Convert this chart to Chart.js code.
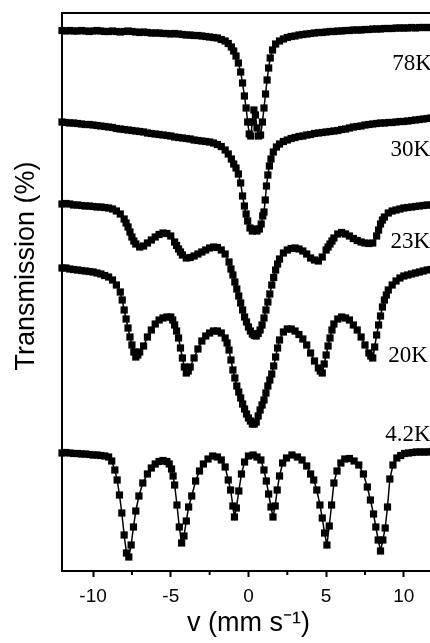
<!DOCTYPE html>
<html>
<head>
<meta charset="utf-8">
<script src="https://cdn.jsdelivr.net/npm/chart.js@4.4.1/dist/chart.umd.min.js"></script>
<style>
  html, body { margin: 0; padding: 0; background: #fff; overflow: hidden; }
  #wrap { width: 440px; height: 643px; }
</style>
</head>
<body>
<div id="wrap"><canvas id="spectra" width="440" height="643"></canvas></div>
<script>
// velocity (mm/s) and transmission (arb. units, offset per spectrum)
const v78 = [-12,-11.75,-11.5,-11.25,-11,-10.75,-10.5,-10.25,-10,-9.75,
  -9.5,-9.25,-9,-8.75,-8.5,-8.25,-8,-7.75,-7.5,-7.25,
  -7,-6.75,-6.5,-6.25,-6,-5.75,-5.5,-5.25,-5,-4.75,
  -4.5,-4.25,-4,-3.75,-3.5,-3.25,-3,-2.75,-2.5,-2.25,
  -2,-1.75,-1.5,-1.3,-1.1,-0.95,-0.8,-0.65,-0.5,-0.38,
  -0.26,-0.15,-0.05,0.05,0.15,0.25,0.35,0.45,0.55,0.65,
  0.78,0.9,1,1.1,1.2,1.3,1.4,1.55,1.75,2,
  2.25,2.5,2.75,3,3.25,3.5,3.75,4,4.25,4.5,
  4.75,5,5.25,5.5,5.75,6,6.25,6.5,6.75,7,
  7.25,7.5,7.75,8,8.25,8.5,8.75,9,9.25,9.5,
  9.75,10,10.25,10.5,10.75,11,11.25,11.5,11.75,12];
const t78 = [540.5,540,540.5,540,540,540.5,540,539.5,540,540.5,
  540,539.5,539.5,540,539.5,539,539.5,540,539.5,539,
  538.5,539,538.5,538,538,538,537.5,537.5,537,537.5,
  537,536.5,536,536,535.5,535.5,535,534.5,534,533.5,
  533,531.5,530,527.5,524,520,515,508,499,488,
  475,463,449,437,435,449,461,456,443,435,
  436,449,463,477,491,503,513,521,527,530,
  532,533.5,534.5,535,536,536.5,537,537.5,538,538.5,
  538.5,539,539.5,539.5,540,540,540.5,540.5,541,541,
  541,541.5,541.5,542,542,542,542.5,542.5,542.5,543,
  543,543,543,543.5,543,543.5,543.5,543.5,543.5,543.5];

const v30 = [-12,-11.75,-11.5,-11.25,-11,-10.75,-10.5,-10.25,-10,-9.75,
  -9.5,-9.25,-9,-8.75,-8.5,-8.25,-8,-7.75,-7.5,-7.25,
  -7,-6.75,-6.5,-6.25,-6,-5.75,-5.5,-5.25,-5,-4.75,
  -4.5,-4.25,-4,-3.75,-3.5,-3.25,-3,-2.75,-2.5,-2.25,
  -2,-1.75,-1.5,-1.3,-1.1,-0.95,-0.8,-0.65,-0.5,-0.38,
  -0.26,-0.15,-0.05,0.1,0.25,0.4,0.55,0.7,0.82,0.92,
  1,1.08,1.16,1.25,1.35,1.45,1.6,1.8,2,2.25,
  2.5,2.75,3,3.25,3.5,3.75,4,4.25,4.5,4.75,
  5,5.25,5.5,5.75,6,6.25,6.5,6.75,7,7.25,
  7.5,7.75,8,8.25,8.5,8.75,9,9.25,9.5,9.75,
  10,10.25,10.5,10.75,11,11.25,11.5,11.75,12];
const t30 = [449,448.5,448,448,447.5,447,446.5,446.5,446,445.5,
  445,444.5,444,443.5,442.5,442,441.5,441,440.5,440,
  439.5,439,438,437.5,437,436.5,436,435.5,435,434,
  433.5,433,432.5,432,431,430.5,430,429.5,429,428,
  426.5,424.5,421,417,412,407,403,397,388,375,
  365,357,350,343,340,342,340,342,347,355,
  359,371,385,396,405,412,419,424,427,429.5,
  431,432.5,433.5,434.5,435,436,436.5,437.5,438,438.5,
  439,439.5,440,440.5,441.5,442,443,444,444.5,445,
  446,446.5,447,447.5,448,448,448.5,448.5,449,449.5,
  449.5,450,450.5,451,451.5,452,452.5,453,453];

const v23 = [-12,-11.75,-11.5,-11.25,-11,-10.75,-10.5,-10.25,-10,-9.75,
  -9.5,-9.25,-9,-8.75,-8.5,-8.25,-8,-7.875,-7.75,-7.625,
  -7.5,-7.375,-7.25,-7,-6.75,-6.5,-6.25,-6,-5.75,-5.5,
  -5.25,-5,-4.75,-4.625,-4.5,-4.375,-4.25,-4,-3.75,-3.5,
  -3.25,-3,-2.75,-2.5,-2.25,-2,-1.75,-1.5,-1.25,-1.125,
  -1,-0.875,-0.75,-0.625,-0.5,-0.375,-0.25,-0.125,0,0.125,
  0.25,0.375,0.5,0.625,0.75,0.875,1,1.125,1.25,1.375,
  1.5,1.625,1.75,1.875,2,2.25,2.5,2.75,3,3.25,
  3.5,3.75,4,4.25,4.5,4.75,5,5.125,5.25,5.375,
  5.5,5.75,6,6.25,6.5,6.75,7,7.25,7.5,7.75,
  8,8.25,8.375,8.5,8.625,8.75,9,9.25,9.5,9.75,
  10,10.25,10.5,10.75,11,11.25,11.5,11.75,12];
const t23 = [367,367.5,367,366,366,365.5,365,365,364.5,364,
  364,363.5,363,362,360,357,352,348,344,339,
  334,330,327,324,325,328,331,334,336.5,338,
  337.5,335,329,325.5,322,319,316,313,313.5,315,
  317,319,321,323,324,323.5,321,317,309,302,
  296,289,282,275,268,261,254,249,244,240,
  237,235.5,235,237.5,241,246,253,261,269,277,
  286,293.5,301,307,312,318,321,322.5,323,322,
  320,317,313,311,310,314,321,324,327,330,
  333,337,338.5,337,335,332.5,330.5,329,328,327.5,
  328,335,341,347,351,354,358,360,361,362,
  363,363.5,364,364.5,365,365.5,366,366,366.5];

const v20 = [-12,-11.75,-11.5,-11.25,-11,-10.75,-10.5,-10.25,-10,-9.75,
  -9.5,-9.25,-9,-8.75,-8.5,-8.25,-8.125,-8,-7.875,-7.75,
  -7.625,-7.5,-7.375,-7.25,-7.125,-7,-6.75,-6.5,-6.25,-6,
  -5.75,-5.5,-5.25,-5,-4.875,-4.75,-4.625,-4.5,-4.375,-4.25,
  -4.125,-4,-3.875,-3.75,-3.5,-3.25,-3,-2.75,-2.5,-2.25,
  -2,-1.75,-1.5,-1.375,-1.25,-1.125,-1,-0.875,-0.75,-0.625,
  -0.5,-0.375,-0.25,-0.125,0,0.125,0.25,0.375,0.5,0.625,
  0.75,0.875,1,1.125,1.25,1.375,1.5,1.625,1.75,1.875,
  2,2.25,2.5,2.75,3,3.25,3.5,3.75,4,4.25,
  4.5,4.625,4.75,4.875,5,5.125,5.25,5.375,5.5,5.75,
  6,6.25,6.5,6.75,7,7.25,7.5,7.75,7.875,8,
  8.125,8.25,8.375,8.5,8.625,8.75,8.875,9,9.25,9.5,
  9.75,10,10.25,10.5,10.75,11,11.25,11.5,11.75,12];
const t20 = [303,303,302,301.5,301,300.5,300,299.5,299,298,
  297,295.5,294,291,286,279,271,261,252,243,
  234,226,219,214,216,219,225,234,241,247,
  251,253,254,254,251,246,240,233,223,213,
  204,198,200,204,213,222,230,235,238,240,
  240,238,233,228,221,211,201,193,185,179,
  173,167,162,157,153,150,147,147,149,155,
  161,166,171,178,185,191,197,205,214,223,
  231,239,242,242,240,236.5,232,226,218,210,
  203,200,198,207,216,225,233,241,247,252,
  254,253,251,246,241,234,226,218,215,213,
  224,236,246,255,264,271,276,281,286,290,
  293,295,296,297,298,299,300,301,301.5,302];

const v4 = [-12,-11.75,-11.5,-11.25,-11,-10.75,-10.5,-10.25,-10,-9.75,
  -9.5,-9.25,-9,-8.8,-8.6,-8.45,-8.3,-8.15,-8,-7.85,
  -7.7,-7.55,-7.4,-7.25,-7.05,-6.8,-6.5,-6.25,-6,-5.75,
  -5.5,-5.25,-5.1,-4.95,-4.85,-4.75,-4.6,-4.45,-4.3,-4.15,
  -4,-3.85,-3.65,-3.4,-3.15,-2.9,-2.6,-2.3,-2,-1.75,
  -1.5,-1.3,-1.15,-1,-0.9,-0.78,-0.62,-0.45,-0.25,0,
  0.3,0.55,0.8,1,1.15,1.3,1.45,1.58,1.72,1.85,
  2,2.2,2.45,2.8,3.15,3.45,3.75,4,4.2,4.4,
  4.6,4.75,4.9,5.05,5.2,5.35,5.5,5.7,5.95,6.2,
  6.5,6.8,7.1,7.4,7.65,7.85,8.05,8.2,8.35,8.5,
  8.65,8.8,8.95,9.1,9.3,9.55,9.8,10.05,10.3,10.55,
  10.8,11.05,11.3,11.55,11.8,12.05];
const t4 = [118,118.5,118,117.5,117.5,117,117,116.5,116,116,
  115.5,115,114,110,101,91,76,58,36,18,
  14,26,44,60,75,88,97,103,107,109.5,
  110.5,109.5,107,102,95,86,66,44,28,35,
  50,64,75,90,100,107,112,115,114,111,
  104,91,81,65,54,63,80,97,109,115,
  116,114,111,101,90,77,64,54,65,81,
  95,108,113,116,114,111,105,97,91,81,
  66,53,38,26,45,66,88,100,108,112,
  112.5,110,106,97,84,71,57,44,31,20,
  31,43,64,92,106,113,115.5,117.5,118,118.5,
  119,119,119,119,119.5,119.5];

// temperature labels and axis ticks
const tempNames = ['78K', '30K', '23K', '20K', '4.2K'];
const xTickValues = [-10, -5, 0, 5, 10];
const xMinorTicks = [-7.5, -2.5, 2.5, 7.5];

const spectra = [
  { name: '78K', v: v78, t: t78 },
  { name: '30K', v: v30, t: t30 },
  { name: '23K', v: v23, t: t23 },
  { name: '20K', v: v20, t: t20 },
  { name: '4.2K', v: v4, t: t4 }
];

// where each temperature label sits (in data units)
const labelAnchors = [
  { v: 9.25, t: 507 },
  { v: 9.15, t: 421 },
  { v: 9.15, t: 329 },
  { v: 9.0, t: 215 },
  { v: 8.8, t: 136 }
];

const sans = "'Liberation Sans', Arial, sans-serif";
const serif = "'Liberation Serif', 'Times New Roman', serif";

const datasets = spectra.map(s => ({
  label: s.name,
  data: s.v.map((v, i) => ({ x: v, y: s.t[i] })),
  showLine: true,
  borderColor: '#000',
  borderWidth: 1.5,
  backgroundColor: '#000',
  pointStyle: 'rect',
  pointRadius: 5.1,
  pointHoverRadius: 5.1,
  pointBorderWidth: 0,
  tension: 0,
  clip: false
}));

// top frame line, minor ticks, y title, temperature labels
const extras = {
  id: 'extras',
  afterDraw(chart) {
    const { ctx, chartArea, scales } = chart;
    ctx.save();
    ctx.strokeStyle = '#000';
    ctx.lineWidth = 2;
    ctx.beginPath();
    ctx.moveTo(chartArea.left - 1, chartArea.top);
    ctx.lineTo(chartArea.right, chartArea.top);
    ctx.stroke();

    xMinorTicks.forEach(v => {
      const px = scales.x.getPixelForValue(v);
      ctx.beginPath();
      ctx.moveTo(px, chartArea.bottom);
      ctx.lineTo(px, chartArea.bottom + 4);
      ctx.stroke();
    });

    ctx.fillStyle = '#000';
    ctx.font = '27px ' + sans;
    ctx.textAlign = 'center';
    ctx.textBaseline = 'middle';
    ctx.translate(27, 266);
    ctx.rotate(-Math.PI / 2);
    ctx.fillText('Transmission (%)', 0, 0);
    ctx.restore();

    ctx.save();
    ctx.fillStyle = '#000';
    ctx.font = '23px ' + serif;
    ctx.textAlign = 'left';
    ctx.textBaseline = 'middle';
    tempNames.forEach((name, i) => {
      const a = labelAnchors[i];
      ctx.fillText(name, scales.x.getPixelForValue(a.v), scales.y.getPixelForValue(a.t));
    });
    ctx.restore();
  }
};

const ctx = document.getElementById('spectra').getContext('2d');
const chart = new Chart(ctx, {
  type: 'scatter',
  data: { datasets: datasets },
  options: {
    responsive: false,
    animation: false,
    devicePixelRatio: 1,
    layout: { padding: { top: 13, right: 4, left: 0, bottom: 0 } },
    plugins: { legend: { display: false }, tooltip: { enabled: false } },
    scales: {
      x: {
        type: 'linear',
        min: -12,
        max: 12,
        afterFit: s => { s.height = 72; },
        afterBuildTicks: s => { s.ticks = xTickValues.map(v => ({ value: v })); },
        ticks: {
          color: '#000',
          font: { family: sans, size: 19 },
          padding: 8,
          maxRotation: 0,
          autoSkip: false
        },
        grid: { drawOnChartArea: false, drawTicks: true, tickLength: 6, tickWidth: 2, tickColor: '#000' },
        border: { display: true, color: '#000', width: 2 },
        title: {
          display: true,
          text: 'v (mm s\u207B\u00B9)',
          color: '#000',
          font: { family: sans, size: 27 },
          padding: { top: 0, bottom: 3 }
        }
      },
      y: {
        type: 'linear',
        min: 0,
        max: 558,
        afterFit: s => { s.width = 62; },
        ticks: { display: false },
        grid: { display: false, drawTicks: false },
        border: { display: true, color: '#000', width: 2 }
      }
    }
  },
  plugins: [extras]
});
</script>
</body>
</html>
